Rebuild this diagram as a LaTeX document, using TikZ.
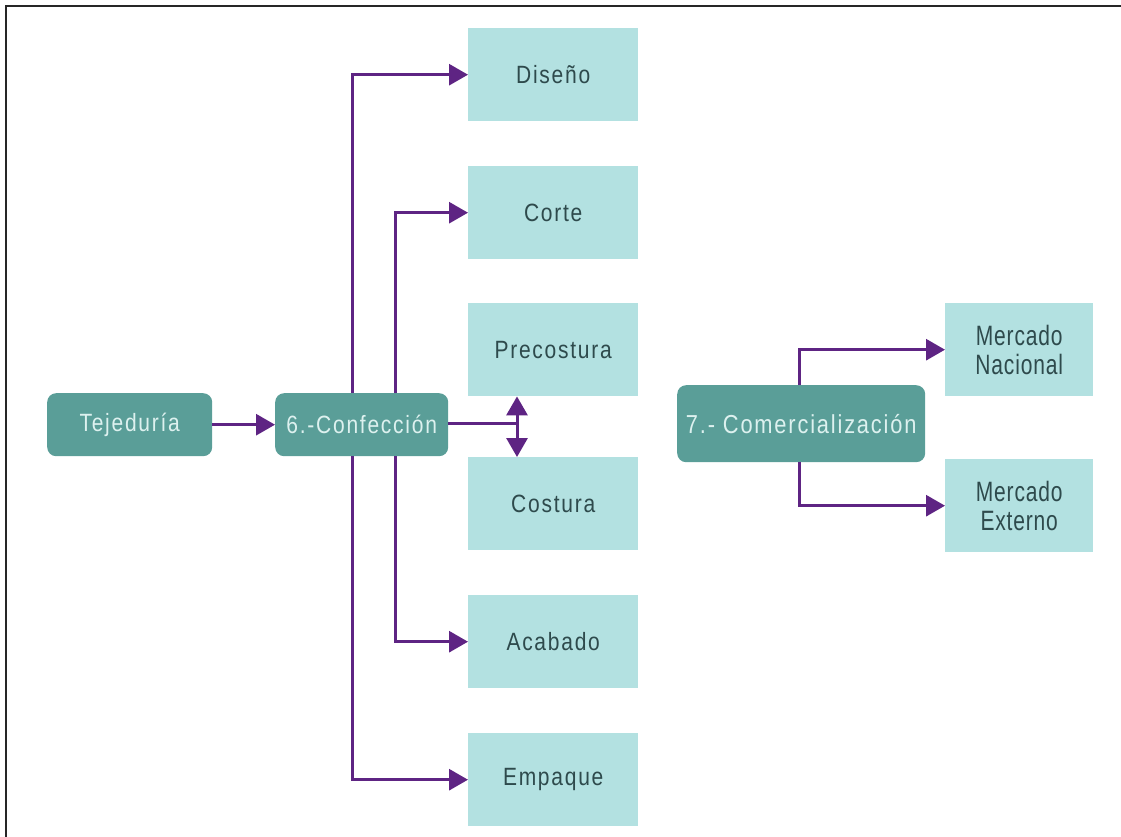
\documentclass[tikz,border=0pt]{standalone}
\usepackage{fontspec}
\setmainfont{Liberation Sans}[FakeStretch=0.84,LetterSpace=7]
\newfontfamily\mfont{Liberation Sans}[FakeStretch=0.75,LetterSpace=3]
\usetikzlibrary{arrows.meta}
\definecolor{darkteal}{HTML}{5A9E98}
\definecolor{lightteal}{HTML}{B3E1E1}
\definecolor{purp}{HTML}{5E2483}
\definecolor{darktext}{HTML}{2E4A4C}
\definecolor{lighttext}{HTML}{DDF1EF}
\tikzset{
  x=1pt, y=-1pt,
  main/.style={fill=darkteal, rounded corners=9pt, text=lighttext, font=\fontsize{25}{28}\selectfont, inner sep=0pt, anchor=north west},
  sub/.style={fill=lightteal, text=darktext, font=\fontsize{25}{28}\selectfont, inner sep=0pt, anchor=north west, align=center},
  msub/.style={sub, font=\mfont\fontsize{28}{29}\selectfont},
  conn/.style={draw=purp, line width=3pt, -{Triangle[length=19pt,width=21pt]}},
  dconn/.style={draw=purp, line width=3pt, {Triangle[length=19pt,width=21pt]}-{Triangle[length=19pt,width=21pt]}},
  plain/.style={draw=purp, line width=3pt}
}
\begin{document}
\begin{tikzpicture}
\useasboundingbox (0,0) rectangle (1121,837);
\draw[line width=2pt, black!85] (6,837) -- (6,6) -- (1121,6);
% main nodes
\node[main, minimum width=165pt, minimum height=63pt] (tej) at (47,393) {Tejeduría};
\node[main, minimum width=173pt, minimum height=63pt] (conf) at (275,393) {6.-Confección};
\node[main, minimum width=248pt, minimum height=77pt, font=\fontsize{26}{28}\selectfont] (com) at (677,385) {7.- Comercialización};
% sub nodes
\node[sub, minimum width=170pt, minimum height=93pt] (dis) at (468,28) {Diseño};
\node[sub, minimum width=170pt, minimum height=93pt] (cor) at (468,166) {Corte};
\node[sub, minimum width=170pt, minimum height=93pt] (pre) at (468,303) {Precostura};
\node[sub, minimum width=170pt, minimum height=93pt] (cos) at (468,457) {Costura};
\node[sub, minimum width=170pt, minimum height=93pt] (aca) at (468,595) {Acabado};
\node[sub, minimum width=170pt, minimum height=93pt] (emp) at (468,733) {Empaque};
\node[msub, minimum width=148pt, minimum height=93pt] (nac) at (945,303) {Mercado\\Nacional};
\node[msub, minimum width=148pt, minimum height=93pt] (ext) at (945,459) {Mercado\\Externo};
% connectors
\draw[conn] (tej.east) -- (conf.west);
\draw[conn] (conf.north west) ++(77,0) |- (dis.west);
\draw[conn] (conf.north west) ++(120,0) |- (cor.west);
\draw[conn] (conf.south west) ++(120,0) |- (aca.west);
\draw[conn] (conf.south west) ++(77,0) |- (emp.west);
\coordinate (split) at (517,423);
\draw[plain] (conf.east |- split) -- (split);
\draw[dconn] (split |- pre.south) -- (split |- cos.north);
\draw[conn] (com.north west) ++(122,0) |- (nac.west);
\draw[conn] (com.south west) ++(122,0) |- (ext.west);
\end{tikzpicture}
\end{document}
